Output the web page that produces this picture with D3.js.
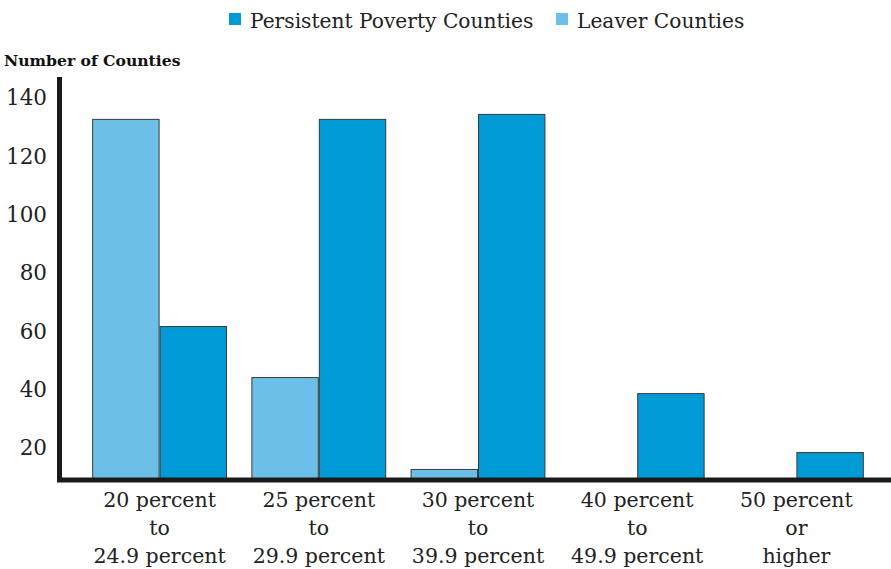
<!DOCTYPE html>
<html><head><meta charset="utf-8">
<script src="https://cdn.jsdelivr.net/npm/d3@7"></script>
<style>body{margin:0;background:#fff}svg{display:block}</style>
</head><body>
<svg id="c" width="891" height="569"></svg>
<script>
const categories = [
  ["20 percent","to","24.9 percent"],
  ["25 percent","to","29.9 percent"],
  ["30 percent","to","39.9 percent"],
  ["40 percent","to","49.9 percent"],
  ["50 percent","or","higher"]
];
const categoryKeys = ["20-24.9","25-29.9","30-39.9","40-49.9","50+"];
const seriesNames = ["Leaver Counties","Persistent Poverty Counties"];
const leaverValues = [132.5, 44, 12.5, 0, 0];
const persistentValues = [61.5, 132.5, 134.2, 38.5, 18.3];
const yTicks = [20, 40, 60, 80, 100, 120, 140];
const yAxisTitle = "Number of Counties";

const colors = {"Leaver Counties":"#6cc0e8","Persistent Poverty Counties":"#009ad6"};
const font = "'DejaVu Serif', serif";
const svg = d3.select("#c");

const x0 = d3.scaleBand().domain(categoryKeys).range([80, 876]).paddingInner(0.153).paddingOuter(0.0765);
const x1 = d3.scaleBand().domain(seriesNames).range([0, x0.bandwidth()]);
const yMin = 9.4;
const y = d3.scaleLinear().domain([yMin, 140]).range([478, 97]);

const data = categoryKeys.map((k,i)=>({key:k, values:[
  {s:seriesNames[0], v:leaverValues[i]},
  {s:seriesNames[1], v:persistentValues[i]}]}));

const g = svg.append("g");
g.selectAll("g.grp").data(data).join("g").attr("class","grp")
 .attr("transform", d=>`translate(${x0(d.key)},0)`)
 .selectAll("rect").data(d=>d.values.filter(e=>e.v>yMin)).join("rect")
 .attr("x", d=>x1(d.s)+0.5).attr("width", x1.bandwidth()-1)
 .attr("y", d=>y(d.v)+0.5).attr("height", d=>y(yMin)-y(d.v))
 .attr("fill", d=>colors[d.s]).attr("stroke","#3a3a3a").attr("stroke-width",1);

// axes
svg.append("line").attr("x1",59.5).attr("x2",59.5).attr("y1",77).attr("y2",482)
  .attr("stroke","#1a1a1a").attr("stroke-width",5);
svg.append("line").attr("x1",57).attr("x2",891).attr("y1",y(yMin)+2).attr("y2",y(yMin)+2)
  .attr("stroke","#1a1a1a").attr("stroke-width",5);

const yAxis = d3.axisLeft(y).tickValues(yTicks).tickSize(0).tickPadding(0);
const ya = svg.append("g").attr("transform","translate(47,0)").call(yAxis);
ya.select(".domain").remove();
ya.selectAll("text").attr("font-family",font).attr("font-size",21.5).attr("fill","#222").attr("dy","0.36em");

svg.append("text").attr("x",4).attr("y",66).text(yAxisTitle)
  .attr("font-family",font).attr("font-weight","bold").attr("font-size",15.6).attr("fill","#111");

// category labels
const lab = svg.append("g").selectAll("text").data(categoryKeys).join("text")
  .attr("x", d=>x0(d)+x0.bandwidth()/2).attr("text-anchor","middle")
  .attr("font-family",font).attr("font-size",20.5).attr("fill","#222");
lab.each(function(d,i){
  const t=d3.select(this);
  categories[i].forEach((line,j)=>t.append("tspan").attr("x",x0(d)+x0.bandwidth()/2).attr("y",507+j*28).text(line));
});

// legend
const legendItems = [
  {s:"Persistent Poverty Counties", x:229},
  {s:"Leaver Counties", x:556}
];
const lg = svg.append("g").selectAll("g").data(legendItems).join("g");
lg.append("rect").attr("x",d=>d.x).attr("y",13).attr("width",12).attr("height",12).attr("fill",d=>colors[d.s]);
lg.append("text").attr("x",d=>d.x+21).attr("y",28).text(d=>d.s)
  .attr("font-family",font).attr("font-size",20.2).attr("fill","#222");
</script>
</body></html>
